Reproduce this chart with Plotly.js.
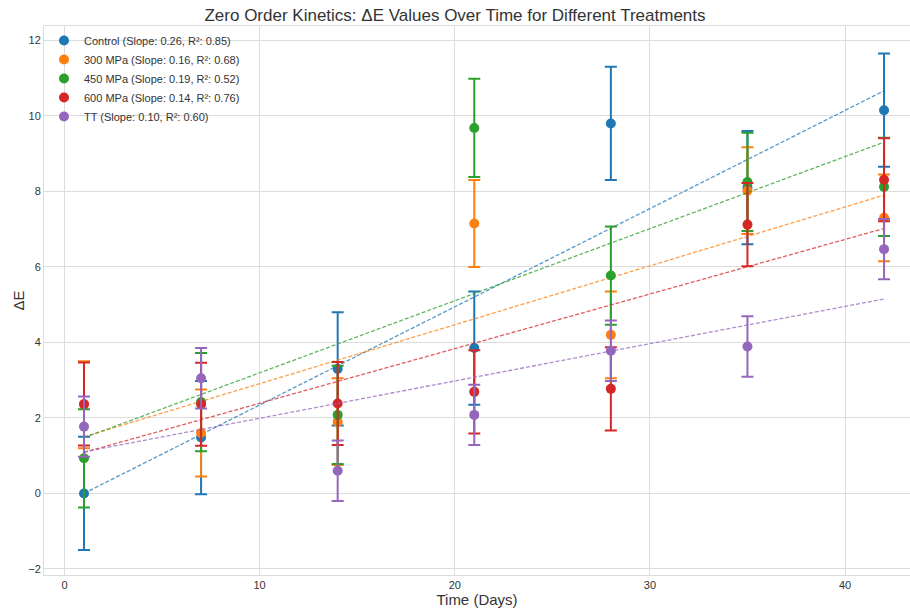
<!DOCTYPE html>
<html>
<head>
<meta charset="utf-8">
<script src="https://cdn.plot.ly/plotly-3.0.1.min.js"></script>
<style>html,body{margin:0;padding:0;background:#fff;}#chart{width:910px;height:612px;}</style>
</head>
<body>
<div id="chart"></div>
<script>
const days = [1, 7, 14, 21, 28, 35, 42];
const seriesNames = ["Control", "300 MPa", "450 MPa", "600 MPa", "TT"];
const colors = ["#1f77b4", "#ff7f0e", "#2ca02c", "#d62728", "#9467bd"];
const controlVals = [0.0, 1.48, 3.3, 3.85, 9.8, 8.1, 10.15];
const mpa300Vals = [2.35, 1.6, 1.9, 7.15, 4.2, 8.02, 7.3];
const mpa450Vals = [0.93, 2.42, 2.08, 9.68, 5.77, 8.25, 8.12];
const mpa600Vals = [2.37, 2.36, 2.38, 2.69, 2.77, 7.12, 8.31];
const ttVals = [1.77, 3.05, 0.6, 2.08, 3.78, 3.89, 6.47];
const errors = [1.5, 1.15, 1.3, 1.1, 0.8];
const slopes = ["0.26", "0.16", "0.19", "0.14", "0.10"];
const r2s = ["0.85", "0.68", "0.52", "0.76", "0.60"];
const allVals = [controlVals, mpa300Vals, mpa450Vals, mpa600Vals, ttVals];

function fit(x, y) {
  const n = x.length;
  const mx = x.reduce((a, b) => a + b, 0) / n;
  const my = y.reduce((a, b) => a + b, 0) / n;
  let sxy = 0, sxx = 0;
  for (let i = 0; i < n; i++) { sxy += (x[i] - mx) * (y[i] - my); sxx += (x[i] - mx) ** 2; }
  const b = sxy / sxx;
  return x.map(v => my + b * (v - mx));
}

const traces = [];
seriesNames.forEach((name, i) => {
  traces.push({
    x: days, y: allVals[i], type: "scatter", mode: "markers",
    name: name + " (Slope: " + slopes[i] + ", R²: " + r2s[i] + ")",
    marker: {color: colors[i], size: 10},
    error_y: {type: "constant", value: errors[i], color: colors[i], thickness: 2, width: 6, visible: true},
    cliponaxis: false
  });
  traces.push({
    x: days, y: fit(days, allVals[i]), type: "scatter", mode: "lines",
    line: {color: colors[i], width: 1.3, dash: "4px,2px"}, opacity: 0.75,
    showlegend: false, hoverinfo: "skip"
  });
});

const layout = {
  width: 910, height: 612,
  margin: {l: 44, r: 0, t: 26, b: 37},
  paper_bgcolor: "#fff", plot_bgcolor: "#fff",
  font: {family: "Liberation Sans, Arial, sans-serif", color: "#333", size: 11},
  title: {text: "Zero Order Kinetics: ΔE Values Over Time for Different Treatments", font: {size: 17, color: "#333"}, x: 0.5, xanchor: "center", y: 0.985, yanchor: "top"},
  xaxis: {
    range: [-1.05, 43.33], tickvals: [0, 10, 20, 30, 40], ticks: "", showgrid: true, gridcolor: "#dcdcdc", gridwidth: 1,
    zeroline: false, showline: true, linecolor: "#dcdcdc", mirror: true,
    title: {text: "Time (Days)", font: {size: 15, color: "#333"}, standoff: 2},
    tickfont: {size: 11, color: "#333"}
  },
  yaxis: {
    range: [-2.16, 12.38], tickvals: [-2, 0, 2, 4, 6, 8, 10, 12], ticktext: ["−2", "0", "2", "4", "6", "8", "10", "12"],
    ticks: "", showgrid: true, gridcolor: "#dcdcdc", gridwidth: 1,
    zeroline: false, showline: true, linecolor: "#dcdcdc", mirror: true,
    title: {text: "ΔE", font: {size: 15, color: "#333"}, standoff: 0},
    tickfont: {size: 11, color: "#333"}
  },
  legend: {x: 0.0, y: 1.0, xanchor: "left", yanchor: "top", bgcolor: "rgba(255,255,255,0)", font: {size: 11, color: "#333"}, tracegroupgap: 0, itemwidth: 30},
  showlegend: true
};
Plotly.newPlot("chart", traces, layout, {displayModeBar: false});
</script>
</body>
</html>
